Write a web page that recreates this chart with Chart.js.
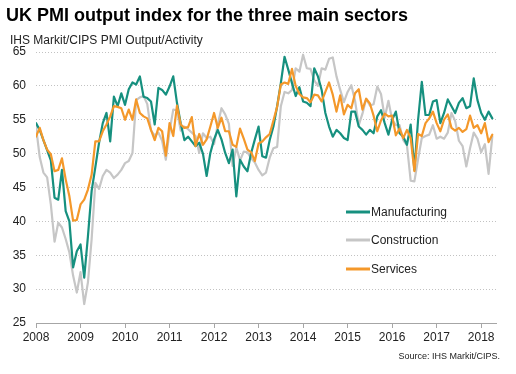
<!DOCTYPE html>
<html>
<head>
<meta charset="utf-8">
<script src="https://cdn.jsdelivr.net/npm/chart.js@4.4.0/dist/chart.umd.min.js"></script>
<style>
  html, body { margin: 0; padding: 0; background: #fff; }
  #wrap { width: 516px; height: 374px; }
</style>
</head>
<body>
<div id="wrap"><canvas id="pmiChart" width="516" height="374"></canvas></div>
<script>
// Monatswerte Jan 2008 - Apr 2018
const manufacturing = [
  54.5, 53.5, 52.0, 50.5, 49.0, 43.5, 43.2, 47.6, 41.5, 40.0, 33.2, 35.6,
  36.6, 31.7, 37.8, 44.5, 48.0, 51.6, 54.5, 56.0, 51.8, 58.4, 57.0, 58.9,
  57.2, 59.5, 60.5, 60.2, 61.4, 58.4, 58.2, 57.7, 54.3, 59.7, 59.4, 58.7,
  59.9, 61.4, 57.5, 54.5, 52.0, 52.5, 51.8, 51.1, 51.6, 50.0, 46.7, 50.1,
  52.1, 53.5, 52.1, 50.1, 48.6, 50.6, 43.7, 49.1, 48.1, 47.4, 50.1, 52.1,
  54.0, 49.6, 49.4, 52.0, 54.0, 57.0, 60.4, 64.3, 62.4, 60.4, 58.5, 59.8,
  57.7, 57.5, 57.0, 62.6, 61.4, 59.4, 56.0, 54.0, 52.5, 53.5, 53.0, 52.3,
  52.0, 56.2, 56.2, 54.0, 53.5, 52.8, 53.5, 53.0, 55.5, 56.4, 54.5, 52.8,
  55.0, 56.2, 53.0, 52.5, 51.3, 54.3, 47.6, 55.0, 60.6, 55.7, 55.7, 57.7,
  57.9, 54.5, 56.0, 58.0, 57.0, 56.0, 57.5, 58.2, 56.7, 57.0, 61.1, 57.9,
  56.0, 55.0, 56.2, 55.2
];
const construction = [
  54.0, 49.5, 47.2, 46.5, 42.5, 37.0, 39.8, 39.1, 37.4, 35.4, 32.0, 29.5,
  32.5, 27.8, 31.0, 37.4, 45.7, 44.8, 46.7, 47.6, 47.2, 46.4, 46.9, 47.6,
  48.6, 48.9, 50.1, 57.9, 58.3, 58.5, 57.3, 53.4, 52.7, 53.1, 51.9, 49.1,
  53.3, 56.5, 56.4, 53.4, 54.0, 53.6, 53.1, 52.6, 50.1, 53.0, 52.3, 52.5,
  51.4, 54.3, 56.7, 55.8, 54.4, 48.2, 50.9, 49.0, 50.3, 50.2, 49.3, 48.7,
  47.6, 46.8, 47.2, 49.4, 50.8, 51.0, 57.0, 59.1, 58.9, 59.4, 62.6, 62.1,
  64.6, 62.6, 62.5, 60.8, 60.0, 62.6, 62.4, 64.0, 64.2, 61.4, 59.4, 57.6,
  59.1, 60.1, 57.8, 54.2, 55.9, 58.1, 57.1, 57.3, 59.9, 58.8, 55.3, 57.8,
  55.0, 54.2, 54.2, 52.0, 51.2, 46.0, 45.9, 49.2, 52.3, 52.6, 52.8, 54.2,
  52.2, 52.5, 52.2, 53.1, 56.0, 54.8, 51.9, 51.1, 48.1, 50.8, 53.1, 52.2,
  50.2, 51.4, 47.0, 52.5
];
const services = [
  52.5, 53.8, 52.0, 50.6, 49.9, 47.4, 47.6, 49.3, 46.2, 43.7, 40.1, 40.2,
  42.5, 43.2, 44.7, 46.9, 51.8, 51.8, 53.3, 54.3, 55.5, 57.0, 56.9, 56.7,
  55.0, 56.5, 55.0, 58.0, 56.0, 55.5, 55.2, 53.5, 52.0, 53.8, 53.3, 49.7,
  54.5, 52.6, 57.1, 54.3, 53.8, 53.9, 55.4, 51.1, 52.9, 51.3, 52.1, 54.0,
  56.0, 53.8, 55.3, 53.3, 53.3, 51.3, 51.0, 53.7, 52.2, 50.6, 50.2, 48.9,
  51.5, 51.8, 52.4, 52.9, 54.9, 56.9, 60.2, 60.5, 60.3, 62.5, 60.0, 58.8,
  58.3, 58.2, 57.6, 58.7, 58.6, 57.7, 59.1, 60.5, 58.7, 56.2, 58.6, 55.8,
  57.2, 56.7, 58.9, 59.5, 56.5, 58.1, 57.4, 55.6, 53.3, 54.9, 55.9, 55.5,
  55.6, 52.7, 53.7, 52.3, 53.5, 52.3, 47.4, 52.9, 52.6, 54.5, 55.2, 56.2,
  54.5, 53.3, 55.0, 55.8, 53.8, 53.4, 53.8, 53.2, 53.6, 55.6, 53.8, 54.2,
  53.0, 54.5, 51.7, 52.8
];
const yearLabels = ["2008", "2009", "2010", "2011", "2012", "2013", "2014", "2015", "2016", "2017", "2018"];
const yTicks = [25, 30, 35, 40, 45, 50, 55, 60, 65];
const seriesNames = ["Manufacturing", "Construction", "Services"];

const FONT = "'Liberation Sans', Arial, sans-serif";
const colors = {
    manufacturing: "#16907f",
    construction: "#c6c6c6",
    services: "#f4982a"
};

function toPoints(arr) {
    return arr.map((v, i) => ({ x: i, y: v }));
}

// Titel, Untertitel, Quelle und Legende direkt auf den Canvas zeichnen
const decorPlugin = {
    id: "decor",
    afterDraw(chart) {
        const ctx = chart.ctx;
        ctx.save();
        ctx.fillStyle = "#000";
        ctx.textAlign = "left";
        ctx.textBaseline = "alphabetic";
        ctx.font = "bold 18px " + FONT;
        ctx.fillText("UK PMI output index for the three main sectors", 6, 21);
        ctx.fillStyle = "#222";
        ctx.font = "12px " + FONT;
        ctx.fillText("IHS Markit/CIPS PMI Output/Activity", 10, 44);
        ctx.textAlign = "right";
        ctx.font = "9px " + FONT;
        ctx.fillText("Source: IHS Markit/CIPS.", 500, 359);

        // Legende
        const legendCols = [colors.manufacturing, colors.construction, colors.services];
        const legendY = [212, 240, 269];
        ctx.textAlign = "left";
        ctx.textBaseline = "middle";
        ctx.font = "12px " + FONT;
        for (let k = 0; k < seriesNames.length; k++) {
            ctx.strokeStyle = legendCols[k];
            ctx.lineWidth = 3;
            ctx.beginPath();
            ctx.moveTo(346, legendY[k]);
            ctx.lineTo(370, legendY[k]);
            ctx.stroke();
            ctx.fillStyle = "#222";
            ctx.fillText(seriesNames[k], 371, legendY[k] + 1);
        }
        ctx.restore();
    }
};

function initChart() {
    const canvas = document.getElementById("pmiChart");
    const ctx = canvas.getContext("2d");

    new Chart(ctx, {
        type: "line",
        data: {
            datasets: [
                {
                    label: seriesNames[0],
                    data: toPoints(manufacturing),
                    borderColor: colors.manufacturing,
                    borderWidth: 2.2,
                    order: 1
                },
                {
                    label: seriesNames[1],
                    data: toPoints(construction),
                    borderColor: colors.construction,
                    borderWidth: 2.2,
                    order: 2
                },
                {
                    label: seriesNames[2],
                    data: toPoints(services),
                    borderColor: colors.services,
                    borderWidth: 2.2,
                    order: 0
                }
            ]
        },
        options: {
            responsive: false,
            animation: false,
            events: [],
            elements: {
                point: { radius: 0 },
                line: { tension: 0, borderJoinStyle: "round", borderCapStyle: "round" }
            },
            layout: {
                padding: { left: 0, right: 20, top: 52, bottom: 0 }
            },
            plugins: {
                legend: { display: false },
                tooltip: { enabled: false },
                title: { display: false }
            },
            scales: {
                x: {
                    type: "linear",
                    min: 0,
                    max: 124,
                    afterBuildTicks(scale) {
                        scale.ticks = yearLabels.map((_, k) => ({ value: k * 12 }));
                    },
                    afterFit(scale) {
                        scale.height = 51;
                    },
                    ticks: {
                        autoSkip: false,
                        maxRotation: 0,
                        padding: 2,
                        color: "#222",
                        font: { family: FONT, size: 12 },
                        callback: (value) => yearLabels[Math.round(value / 12)]
                    },
                    grid: {
                        drawOnChartArea: false,
                        drawTicks: true,
                        tickLength: 5,
                        color: "#a6a6a6"
                    },
                    border: { display: true, color: "#a6a6a6", width: 1 }
                },
                y: {
                    min: 25,
                    max: 65,
                    afterBuildTicks(scale) {
                        scale.ticks = yTicks.map(v => ({ value: v }));
                    },
                    afterFit(scale) {
                        scale.width = 36;
                    },
                    ticks: {
                        padding: 10,
                        color: "#222",
                        font: { family: FONT, size: 12 }
                    },
                    grid: {
                        drawTicks: false,
                        color: "#c2c2c2",
                        lineWidth: 1
                    },
                    border: { display: false, dash: [1, 2] }
                }
            }
        },
        plugins: [decorPlugin]
    });
}

if (document.readyState === "loading") {
    document.addEventListener("DOMContentLoaded", initChart);
} else {
    initChart();
}
</script>
</body>
</html>
